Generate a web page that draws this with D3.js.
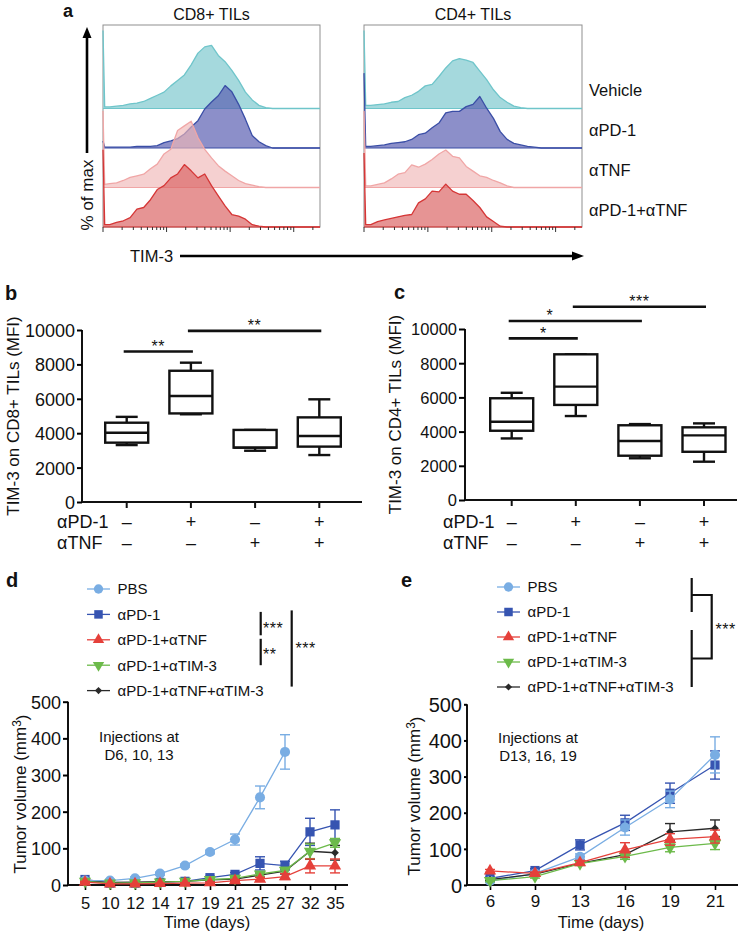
<!DOCTYPE html>
<html>
<head>
<meta charset="utf-8">
<script src="https://cdn.jsdelivr.net/npm/d3@7"></script>
<style>
html,body{margin:0;padding:0;background:#fff;}
svg text{font-family:"Liberation Sans",Arial,Helvetica,sans-serif;fill:#111;}
</style>
</head>
<body>
<svg id="fig" width="747" height="934" xmlns="http://www.w3.org/2000/svg"></svg>
<script>
// ================= DATA =================
// Panel a: TIM-3 flow histograms (% of max), sampled at fluorescence channels
const histGroups = ["Vehicle", "αPD-1", "αTNF", "αPD-1+αTNF"];
const histChannels = [0, 8].concat(d3.range(32, 1025, 32));
const cd8Vehicle = [100,2, 2,3,4,6,7,9,13,17,21,29,36,43,56,71,79,81,68,60,49,36,21,11,4,1,0,0,0,0,0,0,0,0];
const cd8PD1     = [9,1, 1,1,1,1,2,2,2,3,7,9,12,18,27,35,50,59,67,80,72,56,37,16,8,3,0,0,0,0,0,0,0,0];
const cd8TNF     = [98,4, 5,6,9,13,15,17,24,30,43,49,73,79,85,64,49,38,28,21,15,9,5,3,1,0,0,0,0,0,0,0,0,0];
const cd8Combo   = [99,3, 3,6,8,12,23,25,35,48,53,63,68,80,72,63,68,53,40,27,16,14,10,3,1,0,0,0,0,0,0,0,0,0];
const cd4Vehicle = [100,4, 4,5,6,8,9,14,17,22,29,31,41,52,61,64,62,59,48,37,24,14,8,3,1,0,0,0,0,0,0,0,0,0];
const cd4PD1     = [96,2, 2,3,4,6,7,8,11,17,19,26,32,45,47,47,53,56,66,51,38,21,11,6,4,2,1,0,0,0,0,0,0,0];
const cd4TNF     = [98,2, 2,4,6,11,17,19,29,26,30,36,43,48,40,38,27,21,15,13,9,6,2,0,0,0,0,0,0,0,0,0,0,0];
const cd4Combo   = [95,3, 3,7,9,11,13,15,16,31,36,46,45,55,46,42,42,34,25,13,7,1,0,0,0,0,0,0,0,0,0,0,0,0];
const tim3Decades = [100, 1000, 10000, 100000];

// Panels b, c: TIM-3 MFI box plots  [min, q1, median, q3, max]
const boxCategories = ["g1", "g2", "g3", "g4"];
const pd1Signs = ["–", "+", "–", "+"];
const tnfSigns = ["–", "–", "+", "+"];
const cd8Stats = [[3310,3450,4030,4610,4950],[5100,5150,6160,7630,8100],[2980,3160,3160,4190,4190],[2730,3220,3840,4920,5970]];
const cd4Stats = [[3600,4050,4580,5950,6270],[4910,5560,6630,8520,8520],[2440,2590,3450,4370,4440],[2240,2820,3780,4250,4480]];
const mfiTicks = [0, 2000, 4000, 6000, 8000, 10000];
const cd8Sig = [{from:0,to:1,level:8750,label:"**",pos:0.5},{from:1,to:3,level:9950,label:"**",pos:0.5}];
const cd4Sig = [{from:0,to:1,level:9450,label:"*",pos:0.5},{from:0,to:2,level:10470,label:"*",pos:0.31},{from:1,to:3,level:11300,label:"***",pos:0.5}];

// Panels d, e: tumor growth (mm^3), mean ± SEM
const seriesNames = ["PBS", "αPD-1", "αPD-1+αTNF", "αPD-1+αTIM-3", "αPD-1+αTNF+αTIM-3"];
const volTicks = [0, 100, 200, 300, 400, 500];
const dDays = ["5","10","12","14","17","19","21","25","27","32","35"];
const dPBS     = [12,12,18,31,53,90,124,239,363,null,null];
const dPBSErr  = [3,3,4,4,4,5,15,31,47,null,null];
const dPD1     = [15,5,5,7,10,20,29,59,53,145,164];
const dPD1Err  = [3,2,2,2,3,4,5,18,12,37,41];
const dTNF     = [8,3,3,4,5,6,12,16,23,52,52];
const dTNFErr  = [2,1,1,1,1,2,3,5,8,19,19];
const dTIM3    = [10,5,6,8,10,15,18,30,40,92,115];
const dTIM3Err = [2,1,1,2,2,3,3,6,8,20,12];
const dTriple    = [10,7,8,9,10,14,16,27,38,92,88];
const dTripleErr = [2,1,2,2,2,3,3,6,8,22,20];
const eDays = ["6","9","13","16","19","21"];
const ePBS     = [11,32,78,159,237,360];
const ePBSErr  = [4,5,8,21,23,50];
const ePD1     = [18,40,111,172,254,332];
const ePD1Err  = [4,5,14,21,28,39];
const eTNF     = [39,32,62,97,126,134];
const eTNFErr  = [4,4,6,20,16,18];
const eTIM3    = [12,23,59,79,104,115];
const eTIM3Err = [3,4,5,8,12,17];
const eTriple    = [15,30,60,84,147,157];
const eTripleErr = [3,4,5,8,23,23];

// ================= STYLES =================
const histStyles = [
  {fill:"#8fd0d4", stroke:"#6fc5ca", op:0.8},
  {fill:"#5b60b2", stroke:"#3a4ea6", op:0.7},
  {fill:"#f0b7b7", stroke:"#f0a6a6", op:0.65},
  {fill:"#dc6666", stroke:"#d53636", op:0.7}
];
const seriesColors = ["#79ade3", "#3654b1", "#e5403a", "#6cba4a", "#2a2a2a"];

const svg = d3.select("#fig");

function text(g, x, y, s, size, opts = {}) {
  const t = g.append("text").attr("x", x).attr("y", y).text(s).style("font-size", size + "px");
  if (opts.anchor) t.attr("text-anchor", opts.anchor);
  if (opts.weight) t.style("font-weight", opts.weight);
  if (opts.rotate) t.attr("transform", `rotate(${opts.rotate},${x},${y})`);
  if (opts.ls) t.style("letter-spacing", opts.ls + "px");
  return t;
}
function line(g, x1, y1, x2, y2, w, c) {
  return g.append("line").attr("x1", x1).attr("y1", y1).attr("x2", x2).attr("y2", y2)
    .attr("stroke", c || "#111").attr("stroke-width", w || 2);
}

// ================= PANEL a =================
function drawHist(cfg) {
  const g = svg.append("g");
  const x = d3.scaleLinear().domain([0, 1024]).range([cfg.x0, cfg.x1]);
  const hgt = d3.scaleLinear().domain([0, 100]).range([0, 78]);
  g.append("rect").attr("x", cfg.x0).attr("y", cfg.top).attr("width", cfg.x1 - cfg.x0)
    .attr("height", cfg.bottom - cfg.top).attr("fill", "none").attr("stroke", "#8f8f8f").attr("stroke-width", 1);
  cfg.series.forEach((vals, i) => {
    const base = cfg.bottom - (3 - i) * 39.5;
    const st = histStyles[i];
    const area = d3.area().x((d, j) => x(histChannels[j])).y0(base).y1(d => base - hgt(d));
    const ln = d3.line().x((d, j) => x(histChannels[j])).y(d => base - hgt(d));
    g.append("path").attr("d", area(vals)).attr("fill", st.fill).attr("fill-opacity", st.op);
    line(g, cfg.x0, base, cfg.x1, base, 1.2, st.stroke);
    g.append("path").attr("d", ln(vals)).attr("fill", "none").attr("stroke", st.stroke)
      .attr("stroke-width", 1.3).attr("stroke-linejoin", "round");
  });
  const lx = d3.scaleLog().domain([100, 100 * Math.pow(10, 1024 / 300)]).range([cfg.x0, cfg.x1]);
  lx.ticks().forEach(t => {
    const major = tim3Decades.includes(Math.round(t));
    line(g, lx(t), cfg.bottom, lx(t), cfg.bottom + (major ? 5 : 3), 1, "#333");
  });
  text(g, (cfg.x0 + cfg.x1) / 2, 20, cfg.title, 16, {anchor: "middle"});
}
drawHist({x0:103, x1:320, top:25, bottom:227, title:"CD8+ TILs", series:[cd8Vehicle, cd8PD1, cd8TNF, cd8Combo]});
drawHist({x0:364, x1:582, top:25, bottom:227, title:"CD4+ TILs", series:[cd4Vehicle, cd4PD1, cd4TNF, cd4Combo]});
{
  const g = svg.append("g");
  text(g, 63, 16.5, "a", 18, {weight: "bold"});
  // vertical arrow "% of max"
  line(g, 87, 153, 87, 36, 2.6, "#000");
  g.append("path").attr("d", "M87,27 L82.5,38 L91.5,38 Z").attr("fill", "#000");
  text(g, 93, 195, "% of max", 17, {anchor: "middle", rotate: -90});
  // horizontal arrow TIM-3
  text(g, 130, 262, "TIM-3", 16.5);
  line(g, 180, 256, 574, 256, 2.6, "#000");
  g.append("path").attr("d", "M584,256 L572,251.5 L572,260.5 Z").attr("fill", "#000");
  histGroups.forEach((s, i) => text(g, 589, 96 + i * 40, s, 16.5));
}

// ================= PANELS b, c =================
function drawBox(cfg) {
  const g = svg.append("g");
  const x = d3.scalePoint().domain(boxCategories).range(cfg.xr);
  const y = d3.scaleLinear().domain([0, 10000]).range(cfg.yr);
  line(g, cfg.axisX, y(0), cfg.axisX, y(10000), 2);
  line(g, cfg.axisX, y(0), cfg.axisEnd, y(0), 2);
  const ya = d3.axisLeft(y).tickValues(mfiTicks).tickSize(cfg.tick).tickPadding(2).tickFormat(d3.format("d"));
  const ag = g.append("g").attr("transform", `translate(${cfg.axisX},0)`).call(ya);
  ag.select(".domain").remove();
  ag.selectAll(".tick line").attr("stroke-width", 2);
  ag.selectAll(".tick text").style("font-size", cfg.fs + "px").attr("dy", "0.36em");
  boxCategories.forEach((c, i) => {
    const cx = x(c), s = cfg.stats[i], bw = 43, cw = 22;
    line(g, cx, y(0), cx, y(0) + 6, 2);
    line(g, cx, y(s[0]), cx, y(s[1]), 2.4);
    line(g, cx, y(s[3]), cx, y(s[4]), 2.4);
    line(g, cx - cw / 2, y(s[0]), cx + cw / 2, y(s[0]), 2.4);
    line(g, cx - cw / 2, y(s[4]), cx + cw / 2, y(s[4]), 2.4);
    g.append("rect").attr("x", cx - bw / 2).attr("y", y(s[3])).attr("width", bw).attr("height", y(s[1]) - y(s[3]))
      .attr("fill", "#fff").attr("stroke", "#111").attr("stroke-width", 2.4);
    line(g, cx - bw / 2, y(s[2]), cx + bw / 2, y(s[2]), 2.4);
    text(g, cx, cfg.row1 + 6.5, pd1Signs[i], 18, {anchor: "middle"});
    text(g, cx, cfg.row2 + 6.5, tnfSigns[i], 18, {anchor: "middle"});
  });
  cfg.sig.forEach(b => {
    const xa = x(boxCategories[b.from]) - 3, xb = x(boxCategories[b.to]) + 2, yy = y(b.level);
    line(g, xa, yy, xb, yy, 2.6);
    text(g, xa + (xb - xa) * b.pos, yy - 9 + 9.3, b.label, 16, {anchor: "middle", ls: 0.5});
  });
  text(g, cfg.labX, cfg.row1 + 6.5, "αPD-1", 18);
  text(g, cfg.labX, cfg.row2 + 6.5, "αTNF", 18);
  text(g, cfg.titleX, (cfg.yr[0] + cfg.yr[1]) / 2, cfg.title, 17, {anchor: "middle", rotate: -90});
}
drawBox({xr:[126.7, 319.3], yr:[502, 330], axisX:82, axisEnd:362, tick:5, fs:18, stats:cd8Stats, sig:cd8Sig,
  row1:521, row2:542.5, labX:57, titleX:19, title:"TIM-3 on CD8+ TILs (MFI)"});
drawBox({xr:[511.7, 704], yr:[500, 329], axisX:465, axisEnd:737, tick:6, fs:16.5, stats:cd4Stats, sig:cd4Sig,
  row1:521, row2:542, labX:443, titleX:401, title:"TIM-3 on CD4+ TILs (MFI)"});
{
  const g = svg.append("g");
  text(g, 5, 300, "b", 20, {weight: "bold"});
  text(g, 394, 298.5, "c", 20, {weight: "bold"});
  text(g, 6, 587, "d", 20, {weight: "bold"});
  text(g, 401, 587, "e", 20, {weight: "bold"});
}

// ================= PANELS d, e =================
function marker(g, k, cx, cy, sc) {
  const sym = [d3.symbolCircle, d3.symbolSquare, d3.symbolTriangle, d3.symbolTriangle, d3.symbolSquare][k];
  const size = [80, 85, 66, 66, 30][k] * sc;
  const rot = [0, 0, 0, 180, 45][k];
  g.append("path").attr("d", d3.symbol(sym, size)()).attr("transform", `translate(${cx},${cy}) rotate(${rot})`)
    .attr("fill", seriesColors[k]);
}
function drawGrowth(cfg) {
  const g = svg.append("g");
  const x = d3.scalePoint().domain(cfg.days).range(cfg.xr);
  const y = d3.scaleLinear().domain([0, 500]).range(cfg.yr);
  line(g, cfg.axisX, y(0), cfg.axisX, y(500), 2);
  line(g, cfg.axisX, y(0), cfg.axisEnd, y(0), 2);
  const ya = d3.axisLeft(y).tickValues(volTicks).tickSize(cfg.ytick).tickPadding(2);
  const ag = g.append("g").attr("transform", `translate(${cfg.axisX},0)`).call(ya);
  ag.select(".domain").remove();
  ag.selectAll(".tick line").attr("stroke-width", 2);
  ag.selectAll(".tick text").style("font-size", cfg.yfs + "px").attr("dy", "0.36em");
  const xa = d3.axisBottom(x).tickSize(5).tickPadding(cfg.xpad);
  const bg = g.append("g").attr("transform", `translate(0,${y(0)})`).call(xa);
  bg.select(".domain").remove();
  bg.selectAll(".tick line").attr("stroke-width", 1.6);
  bg.selectAll(".tick text").style("font-size", cfg.xfs + "px");
  text(g, cfg.titleX, 928, "Time (days)", 16.5, {anchor: "middle"});
  const yt = text(g, cfg.ytitleX, cfg.ytitleY, "Tumor volume (mm", 17, {anchor: "middle", rotate: -90});
  yt.append("tspan").text("3").attr("dy", "-0.45em").style("font-size", "12px");
  yt.append("tspan").text(")").attr("dy", "0.45em");
  text(g, cfg.injX, cfg.injY, "Injections at", 15, {anchor: "middle"});
  text(g, cfg.injX, cfg.injY + 18, cfg.injText, 15, {anchor: "middle"});
  // series
  const order = [1, 0, 4, 3, 2];
  order.forEach(k => {
    const vals = cfg.series[k], errs = cfg.errs[k], col = seriesColors[k];
    const pts = cfg.days.map((d, i) => ({d, v: vals[i], e: errs[i]})).filter(p => p.v != null);
    const ln = d3.line().x(p => x(p.d)).y(p => y(p.v));
    g.append("path").attr("d", ln(pts)).attr("fill", "none").attr("stroke", col).attr("stroke-width", 1.3);
    pts.forEach(p => {
      if (p.e > 0) {
        line(g, x(p.d), y(p.v - p.e), x(p.d), y(p.v + p.e), 1.4, col);
        line(g, x(p.d) - 5, y(p.v + p.e), x(p.d) + 5, y(p.v + p.e), 1.4, col);
        line(g, x(p.d) - 5, y(p.v - p.e), x(p.d) + 5, y(p.v - p.e), 1.4, col);
      }
      marker(g, k, x(p.d), y(p.v), 1);
    });
  });
  // legend
  seriesNames.forEach((s, k) => {
    const ry = cfg.legY + k * cfg.legGap;
    line(g, cfg.legX, ry, cfg.legX + 23, ry, 1.3, seriesColors[k]);
    marker(g, k, cfg.legX + 11.5, ry, 0.85);
    text(g, cfg.legX + 30.5, ry + 5.3, s, 15);
  });
  return cfg;
}
const dCfg = drawGrowth({days: dDays, xr: [85, 335], yr: [885, 701.7], axisX: 68, axisEnd: 348, ytick: 5, yfs: 18, xfs: 16.5, xpad: 7,
  titleX: 207, ytitleX: 26, ytitleY: 794, injX: 139, injY: 742, injText: "D6, 10, 13",
  series: [dPBS, dPD1, dTNF, dTIM3, dTriple], errs: [dPBSErr, dPD1Err, dTNFErr, dTIM3Err, dTripleErr],
  legX: 87, legY: 589, legGap: 25.4});
const eCfg = drawGrowth({days: eDays, xr: [490, 715], yr: [885, 704.3], axisX: 467, axisEnd: 738, ytick: 3, yfs: 20, xfs: 17, xpad: 5,
  titleX: 601, ytitleX: 420, ytitleY: 796, injX: 538, injY: 743, injText: "D13, 16, 19",
  series: [ePBS, ePD1, eTNF, eTIM3, eTriple], errs: [ePBSErr, ePD1Err, eTNFErr, eTIM3Err, eTripleErr],
  legX: 497, legY: 587, legGap: 25});
// significance brackets
{
  const g = svg.append("g");
  const r = i => dCfg.legY + i * dCfg.legGap;
  line(g, 260.7, r(1) - 2.5, 260.7, r(2) - 4.5, 2.2);
  line(g, 260.7, r(2) - 1, 260.7, r(3), 2.2);
  line(g, 291.7, r(1) - 4, 291.7, r(4) - 4, 2.2);
  text(g, 263, 625 + 9.3, "***", 16, {ls: 0.5});
  text(g, 263, 651 + 9.3, "**", 16, {ls: 0.5});
  text(g, 295.5, 645 + 9.3, "***", 16, {ls: 0.5});
  const q = i => eCfg.legY + i * eCfg.legGap;
  const m1 = (q(0) - 9 + q(1)) / 2, m2 = (q(2) - 7 + q(4)) / 2;
  line(g, 691.7, q(0) - 9, 691.7, q(1), 2.2);
  line(g, 691.7, q(2) - 7, 691.7, q(4), 2.2);
  g.append("path").attr("d", `M691.7,${m1} H711.7 V${m2} H691.7`).attr("fill", "none").attr("stroke", "#111").attr("stroke-width", 2.2);
  text(g, 715.5, 626 + 9.3, "***", 16, {ls: 0.5});
}
</script>
</body>
</html>
